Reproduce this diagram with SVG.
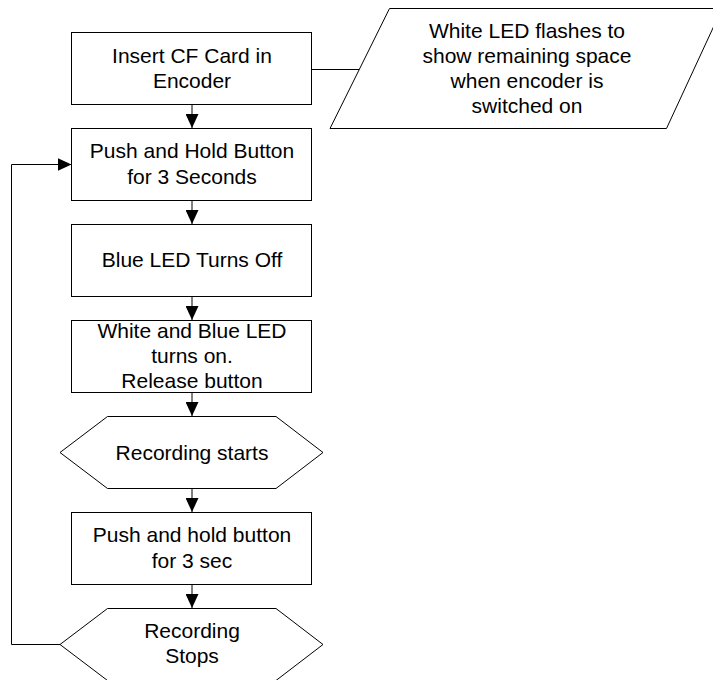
<svg xmlns="http://www.w3.org/2000/svg" width="713" height="680" viewBox="0 0 713 680">
<style>
.s{fill:#fff;stroke:#000;stroke-width:1}
.t{font-family:"Liberation Sans",Arial,sans-serif;font-size:21px;fill:#000;text-anchor:middle}
.c{fill:none;stroke:#000;stroke-width:1}
</style>
<defs>
<marker id="ah" markerUnits="userSpaceOnUse" markerWidth="14" markerHeight="13" refX="14" refY="6.5" orient="auto">
<path d="M0,0 L14,6.5 L0,13 Z" fill="#000"/>
</marker>
</defs>
<rect width="713" height="680" fill="#fff"/>
<g id="connectors">
<path class="c" d="M192,104.5 V128" marker-end="url(#ah)"/>
<path class="c" d="M192,200.5 V224" marker-end="url(#ah)"/>
<path class="c" d="M192,296.5 V320" marker-end="url(#ah)"/>
<path class="c" d="M192,392.5 V416" marker-end="url(#ah)"/>
<path class="c" d="M192,488.5 V512" marker-end="url(#ah)"/>
<path class="c" d="M192,584.5 V608" marker-end="url(#ah)"/>
<path class="c" d="M60,644.5 H11.5 V164.5 H71.5" marker-end="url(#ah)"/>
<path class="c" d="M312,69.5 H359"/>
</g>
<g id="n1">
<rect class="s" x="71.5" y="32.5" width="240" height="72"/>
<text class="t" x="192" y="62.5">Insert CF Card in</text>
<text class="t" x="192" y="88">Encoder</text>
</g>
<g id="n2">
<rect class="s" x="71.5" y="128.5" width="240" height="72"/>
<text class="t" x="192" y="158.3">Push and Hold Button</text>
<text class="t" x="192" y="184">for 3 Seconds</text>
</g>
<g id="n3">
<rect class="s" x="71.5" y="224.5" width="240" height="72"/>
<text class="t" x="192" y="267.3">Blue LED Turns Off</text>
</g>
<g id="n4">
<rect class="s" x="71.5" y="320.5" width="240" height="72"/>
<text class="t" x="192" y="338.3">White and Blue LED</text>
<text class="t" x="192" y="363.3">turns on.</text>
<text class="t" x="192" y="388.3">Release button</text>
</g>
<g id="n5">
<polygon class="s" points="60,452.5 107.5,416.5 276,416.5 323,452.5 276,488.5 107.5,488.5"/>
<text class="t" x="192" y="460">Recording starts</text>
</g>
<g id="n6">
<rect class="s" x="71.5" y="512.5" width="240" height="72"/>
<text class="t" x="192" y="542">Push and hold button</text>
<text class="t" x="192" y="567.5">for 3 sec</text>
</g>
<g id="n7">
<polygon class="s" points="60,644.5 107.5,608.5 276,608.5 323,644.5 276,680.5 107.5,680.5"/>
<text class="t" x="192" y="637.5">Recording</text>
<text class="t" x="192" y="663.3">Stops</text>
</g>
<g id="n8">
<polygon class="s" points="389.5,8.5 722,8.5 666.5,128.5 330,128.5"/>
<text class="t" x="527" y="38.3">White LED flashes to</text>
<text class="t" x="527" y="63.3">show remaining space</text>
<text class="t" x="527" y="88.3">when encoder is</text>
<text class="t" x="527" y="113.3">switched on</text>
</g>
</svg>
